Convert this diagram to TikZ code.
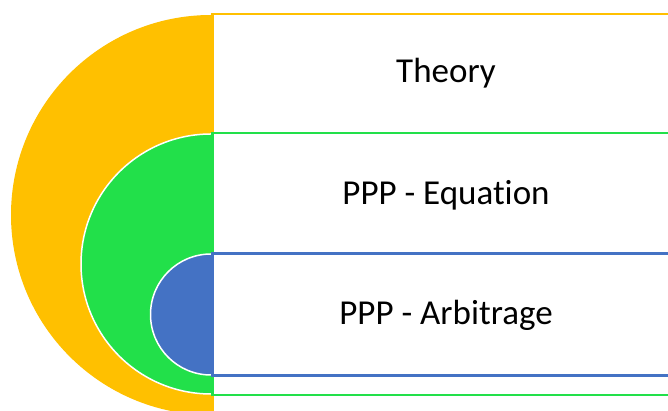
\documentclass[tikz,border=0pt]{standalone}
\usepackage{fontspec}
\setmainfont{Carlito}[Ligatures=NoCommon]
\usetikzlibrary{positioning}
\definecolor{ringyellow}{HTML}{FFC000}
\definecolor{ringgreen}{HTML}{22E04A}
\definecolor{ringblue}{HTML}{4472C4}

\begin{document}
\begin{tikzpicture}[x=1pt, y=1pt,
  halfdisc/.style={circle, draw=white, line width=1.5pt, inner sep=0pt},
  band/.style={draw, fill=white, line width=2.6pt, minimum width=470pt,
               inner sep=0pt, anchor=west},
  caption/.style={font=\fontsize{35}{42}\selectfont, inner sep=0pt, anchor=base},
]
  \useasboundingbox (0,0) rectangle (668,411);
  \clip (0,0) rectangle (668,411);
  % outer ring
  \node[halfdisc, fill=ringyellow, draw=none, minimum size=400pt] (theorydisc) at (211,196) {};
  \node[band, draw=ringyellow, minimum height=402pt] (theoryband) at (theorydisc.center) {};
  % middle ring
  \node[halfdisc, fill=ringgreen, minimum size=260pt] (equationdisc) at (211,147) {};
  \node[band, draw=ringgreen, minimum height=262pt] (equationband) at (equationdisc.center) {};
  % inner ring
  \node[halfdisc, fill=ringblue, minimum size=121pt] (arbitragedisc) at (211,96.5) {};
  \node[band, draw=ringblue, minimum height=122pt] (arbitrageband) at (arbitragedisc.center) {};
  % labels
  \node[caption] (theory)    at (446,328) {Theory};
  \node[caption] (equation)  at (446,206) {PPP - Equation};
  \node[caption] (arbitrage) at (446,86)  {PPP - Arbitrage};
\end{tikzpicture}
\end{document}
